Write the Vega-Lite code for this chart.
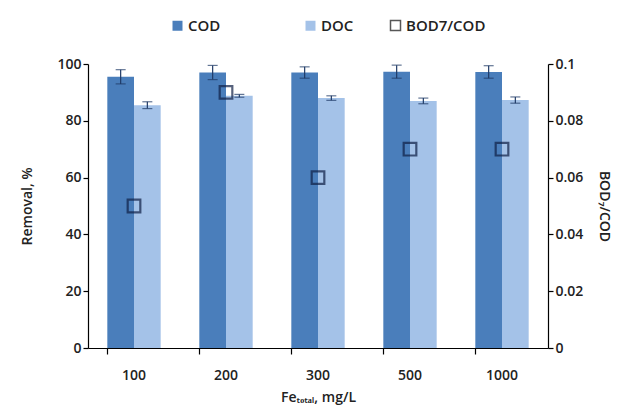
{
  "$schema": "https://vega.github.io/schema/vega-lite/v6.json",
  "width": 460,
  "height": 284,
  "autosize": "none",
  "padding": {"left": 88, "top": 64, "right": 87, "bottom": 69},
  "background": "white",
  "config": {
    "view": {"stroke": null},
    "font": "Open Sans",
    "axis": {"grid": false, "domainColor": "#000", "tickColor": "#000", "labelColor": "#222", "titleColor": "#222", "labelFontSize": 14, "titleFontSize": 14, "labelFontWeight": 600, "titleFontWeight": 600, "tickSize": 5, "domainWidth": 1.2, "tickWidth": 1.2},
    "legend": {"labelFontSize": 15, "labelFontWeight": 600, "labelColor": "#222"}
  },
  "datasets": {
    "bars": [
      {"fe": "100", "series": "COD", "value": 95.5, "lo": 93.0, "hi": 98.0},
      {"fe": "100", "series": "DOC", "value": 85.5, "lo": 84.3, "hi": 86.7},
      {"fe": "200", "series": "COD", "value": 97.0, "lo": 94.5, "hi": 99.5},
      {"fe": "200", "series": "DOC", "value": 88.8, "lo": 88.3, "hi": 89.3},
      {"fe": "300", "series": "COD", "value": 97.0, "lo": 95.0, "hi": 99.0},
      {"fe": "300", "series": "DOC", "value": 88.0, "lo": 87.2, "hi": 88.8},
      {"fe": "500", "series": "COD", "value": 97.3, "lo": 95.0, "hi": 99.6},
      {"fe": "500", "series": "DOC", "value": 87.0, "lo": 86.0, "hi": 88.0},
      {"fe": "1000", "series": "COD", "value": 97.2, "lo": 95.0, "hi": 99.4},
      {"fe": "1000", "series": "DOC", "value": 87.3, "lo": 86.2, "hi": 88.4}
    ],
    "ratio": [
      {"fe": "100", "series": "BOD7/COD", "ratio": 0.05},
      {"fe": "200", "series": "BOD7/COD", "ratio": 0.09},
      {"fe": "300", "series": "BOD7/COD", "ratio": 0.06},
      {"fe": "500", "series": "BOD7/COD", "ratio": 0.07},
      {"fe": "1000", "series": "BOD7/COD", "ratio": 0.07}
    ]
  },
  "encoding": {
    "x": {
      "field": "fe", "type": "ordinal", "sort": ["100", "200", "300", "500", "1000"],
      "scale": {"paddingInner": 0.42, "paddingOuter": 0.21},
      "axis": {"title": "Feₜₒₜₐₗ, mg/L", "labelAngle": 0, "bandPosition": 0, "tickSize": 6, "labelPadding": 14, "titlePadding": 8}
    }
  },
  "layer": [
    {
      "layer": [
        {
          "data": {"name": "bars"},
          "mark": {"type": "bar"},
          "encoding": {
            "xOffset": {"field": "series", "type": "nominal", "scale": {"paddingInner": 0}},
            "y": {"field": "value", "type": "quantitative", "scale": {"domain": [0, 100]}, "axis": {"title": "Removal, %", "values": [0, 20, 40, 60, 80, 100], "titlePadding": 22}},
            "color": {"field": "series", "type": "nominal", "scale": {"domain": ["COD", "DOC"], "range": ["#4a7ebb", "#a4c2e8"]},
              "legend": {"orient": "none", "legendX": 82, "legendY": -46, "direction": "horizontal", "title": null, "symbolType": "square", "symbolSize": 100, "symbolOpacity": 1, "columnPadding": 82, "labelOffset": 3}}
          }
        },
        {
          "data": {"name": "bars"},
          "mark": {"type": "rule", "color": "#1f3a66", "strokeWidth": 1.2},
          "encoding": {
            "xOffset": {"field": "series", "type": "nominal"},
            "y": {"field": "lo", "type": "quantitative"},
            "y2": {"field": "hi"}
          }
        },
        {
          "data": {"name": "bars"},
          "mark": {"type": "tick", "color": "#1f3a66", "size": 10, "thickness": 1.2},
          "encoding": {
            "xOffset": {"field": "series", "type": "nominal"},
            "y": {"field": "lo", "type": "quantitative"}
          }
        },
        {
          "data": {"name": "bars"},
          "mark": {"type": "tick", "color": "#1f3a66", "size": 10, "thickness": 1.2},
          "encoding": {
            "xOffset": {"field": "series", "type": "nominal"},
            "y": {"field": "hi", "type": "quantitative"}
          }
        }
      ]
    },
    {
      "data": {"name": "ratio"},
      "mark": {"type": "point", "shape": "square", "filled": false, "size": 160, "strokeWidth": 2.2, "color": "#0f1f45"},
      "encoding": {
        "y": {"field": "ratio", "type": "quantitative", "scale": {"domain": [0, 0.1]}, "axis": {"orient": "right", "title": "BOD₇/COD", "values": [0, 0.02, 0.04, 0.06, 0.08, 0.1], "format": "~g", "titlePadding": 14}},
        "shape": {"field": "series", "type": "nominal", "scale": {"range": ["square"]},
          "legend": {"orient": "none", "legendX": 300, "legendY": -46, "title": null, "symbolFillColor": "white", "symbolStrokeColor": "#111", "symbolStrokeWidth": 1.5, "symbolSize": 100, "labelOffset": 3}}
      }
    }
  ],
  "resolve": {"scale": {"y": "independent"}}
}
